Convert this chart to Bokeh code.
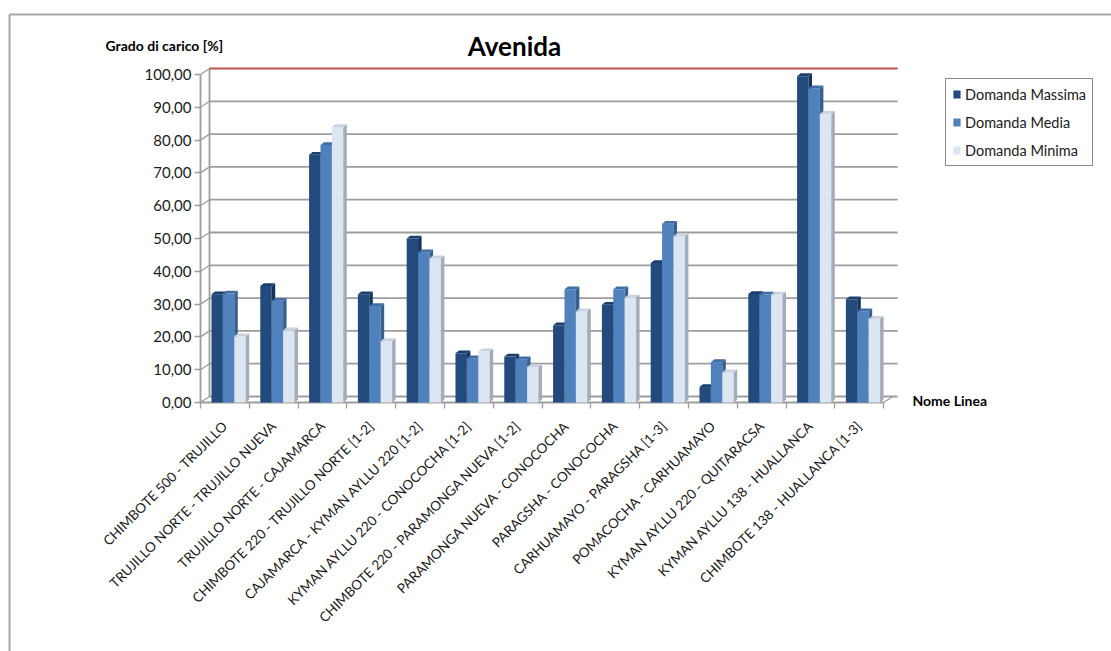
import math

from bokeh.embed import file_html
from bokeh.models import FixedTicker, Label, Legend, LegendItem, LinearAxis, Range1d
from bokeh.plotting import figure
from bokeh.resources import INLINE

# ---- data -------------------------------------------------------------
categories = [
    "CHIMBOTE 500 - TRUJILLO",
    "TRUJILLO NORTE - TRUJILLO NUEVA",
    "TRUJILLO NORTE - CAJAMARCA",
    "CHIMBOTE 220 - TRUJILLO NORTE [1-2]",
    "CAJAMARCA - KYMAN AYLLU 220 [1-2]",
    "KYMAN AYLLU 220 - CONOCOCHA [1-2]",
    "CHIMBOTE 220 - PARAMONGA NUEVA [1-2]",
    "PARAMONGA NUEVA - CONOCOCHA",
    "PARAGSHA - CONOCOCHA",
    "CARHUAMAYO - PARAGSHA [1-3]",
    "POMACOCHA - CARHUAMAYO",
    "KYMAN AYLLU 220 - QUITARACSA",
    "KYMAN AYLLU 138 - HUALLANCA",
    "CHIMBOTE 138 - HUALLANCA [1-3]",
]
series_names = ["Domanda Massima", "Domanda Media", "Domanda Minima"]
massima = [33.0, 35.5, 75.5, 33.0, 50.0, 15.0, 14.0, 23.5, 29.8, 42.5, 4.7, 33.1, 99.5, 31.5]
media = [33.2, 31.0, 78.5, 29.4, 45.8, 13.5, 13.2, 34.5, 34.5, 54.5, 12.3, 32.9, 95.8, 27.8]
minima = [20.2, 22.0, 84.0, 18.7, 44.0, 15.6, 10.8, 27.8, 32.0, 50.7, 9.2, 32.9, 88.0, 25.5]
y_ticks = list(range(0, 101, 10))
limit_value = 100

# ---- geometry -----------------------------------------------------------
FONT = "Lato"
W, H = 1111, 651
ORIGIN_X, ORIGIN_Y = 200, 402   # canvas position of the (0, 0) corner
CAT_PX = 48.8                   # pixels per category
VAL_PX = 3.28                   # pixels per percentage point
n = len(categories)

WX, WY = 9 / CAT_PX, 6 / VAL_PX        # back-wall depth offset
BX, BY = 3.5 / CAT_PX, 2.8 / VAL_PX    # column depth offset
BW = 11.4 / CAT_PX                     # column width
GRID = "#9d9d9d"


def at(px, py):
    """Canvas pixel position -> data coordinates (for annotation placement)."""
    return (px - ORIGIN_X) / CAT_PX, (ORIGIN_Y - py) / VAL_PX


x0, y_top = at(0, 0)
x1, y_bot = at(W, H)
p = figure(
    width=W, height=H,
    x_range=Range1d(x0, x1), y_range=Range1d(y_bot, y_top),
    x_axis_location=None, y_axis_location=None,
    output_backend="svg", toolbar_location=None,
    min_border=0, min_border_left=0, min_border_right=0,
    min_border_top=0, min_border_bottom=0,
    outline_line_color=None,
)
p.grid.visible = False

# ---- chart-area border ----------------------------------------------------
bx, by = at(9, 14)
p.segment(x0=[bx, bx], y0=[by, by], x1=[x1, bx], y1=[by, y_bot],
          line_color="#a8a8a8", line_width=2)

# ---- back wall, floor and front axis lines ------------------------------
wall_end = n + WX + 5 / CAT_PX
grid_vals = [v for v in y_ticks if v != limit_value]
p.segment(x0=[WX] * len(grid_vals), y0=[v + WY for v in grid_vals],
          x1=[wall_end] * len(grid_vals), y1=[v + WY for v in grid_vals],
          line_color=GRID, line_width=1.8)
p.segment(x0=[WX], y0=[WY], x1=[WX], y1=[limit_value + WY], line_color=GRID, line_width=1.8)
# diagonal tick connectors from the front axis to the back wall
p.segment(x0=[0] * len(y_ticks), y0=y_ticks, x1=[WX] * len(y_ticks),
          y1=[v + WY for v in y_ticks], line_color=GRID, line_width=1.3)
p.segment(x0=[0], y0=[0], x1=[0], y1=[limit_value], line_color=GRID, line_width=1.8)
p.segment(x0=[0], y0=[0], x1=[n], y1=[0], line_color=GRID, line_width=1.8)
p.segment(x0=[n], y0=[0], x1=[n + WX], y1=[WY], line_color=GRID, line_width=1.3)
# 100 % loading limit
p.segment(x0=[WX], y0=[limit_value + WY], x1=[wall_end], y1=[limit_value + WY],
          line_color="#C0504D", line_width=2.2)

# ---- 3D-look columns ----------------------------------------------------
styles = [
    ("#234A7D", "#15335A", "#1B3F6D"),
    ("#4F81BD", "#35608F", "#3F6DA6"),
    ("#DCE6F2", "#A3ACB8", "#C9D3E0"),
]
renderers = []
for k, (vals, (front, side, cap)) in enumerate(zip([massima, media, minima], styles)):
    xs = [i + 0.342 + k * BW for i in range(n)]
    r = p.vbar(x=xs, top=vals, bottom=0, width=BW, fill_color=front, line_color=None)
    renderers.append(r)
    side_x = [[x + BW / 2, x + BW / 2 + BX, x + BW / 2 + BX, x + BW / 2] for x in xs]
    side_y = [[0, BY, v + BY, v] for v in vals]
    p.patches(side_x, side_y, fill_color=side, line_color=None)
    cap_x = [[x - BW / 2, x + BW / 2, x + BW / 2 + BX, x - BW / 2 + BX] for x in xs]
    cap_y = [[v, v, v + BY, v + BY] for v in vals]
    p.patches(cap_x, cap_y, fill_color=cap, line_color=None)

# ---- axes (pinned to the front corner of the floor) ---------------------
yaxis = LinearAxis(fixed_location=0)
yaxis.ticker = FixedTicker(ticks=y_ticks)
yaxis.major_label_overrides = {v: f"{v},00" for v in y_ticks}
yaxis.axis_line_color = None
yaxis.major_tick_line_color = GRID
yaxis.major_tick_line_width = 1.3
yaxis.major_tick_out = 6
yaxis.major_tick_in = 0
yaxis.minor_tick_line_color = None
yaxis.major_label_standoff = 3
yaxis.major_label_text_font = FONT
yaxis.major_label_text_font_size = "15px"
yaxis.major_label_text_color = "#1a1a1a"
p.add_layout(yaxis, "left")

centers = [i + 0.5 for i in range(n)]
xaxis = LinearAxis(fixed_location=0)
xaxis.ticker = FixedTicker(ticks=centers, minor_ticks=list(range(n + 1)))
xaxis.major_label_overrides = {c: name for c, name in zip(centers, categories)}
xaxis.major_label_orientation = math.pi / 4
xaxis.axis_line_color = None
xaxis.major_tick_line_color = None
xaxis.minor_tick_line_color = GRID
xaxis.minor_tick_line_width = 1.3
xaxis.minor_tick_out = 6
xaxis.minor_tick_in = 0
xaxis.major_label_standoff = 15
xaxis.major_label_text_font = FONT
xaxis.major_label_text_font_size = "13.5px"
xaxis.major_label_text_color = "#1a1a1a"
p.add_layout(xaxis, "below")

# ---- legend -------------------------------------------------------------
legend = Legend(
    items=[LegendItem(label=name, renderers=[r]) for name, r in zip(series_names, renderers)],
    location=(945, H - 166),
    border_line_color="#1a1a1a", border_line_width=1.5,
    background_fill_color="white", background_fill_alpha=1,
    label_text_font=FONT, label_text_font_size="14.5px", label_text_color="#1a1a1a",
    glyph_width=9, glyph_height=10, label_height=18, label_width=118,
    label_standoff=4, spacing=10, padding=6, margin=0,
)
p.add_layout(legend)

# ---- titles -------------------------------------------------------------
tx, ty = at(514, 45)
p.add_layout(Label(x=tx, y=ty, text="Avenida", text_font=FONT, text_font_style="bold",
                   text_font_size="26px", text_align="center", text_baseline="middle",
                   text_color="#000000"))
gx, gy = at(105, 45)
p.add_layout(Label(x=gx, y=gy, text="Grado di carico [%]", text_font=FONT,
                   text_font_style="bold", text_font_size="14px", text_align="left",
                   text_baseline="middle", text_color="#000000"))
nx, ny = at(912, 400)
p.add_layout(Label(x=nx, y=ny, text="Nome Linea", text_font=FONT, text_font_style="bold",
                   text_font_size="14px", text_align="left", text_baseline="middle",
                   text_color="#000000"))

open("out.html", "w").write(file_html(p, INLINE))
